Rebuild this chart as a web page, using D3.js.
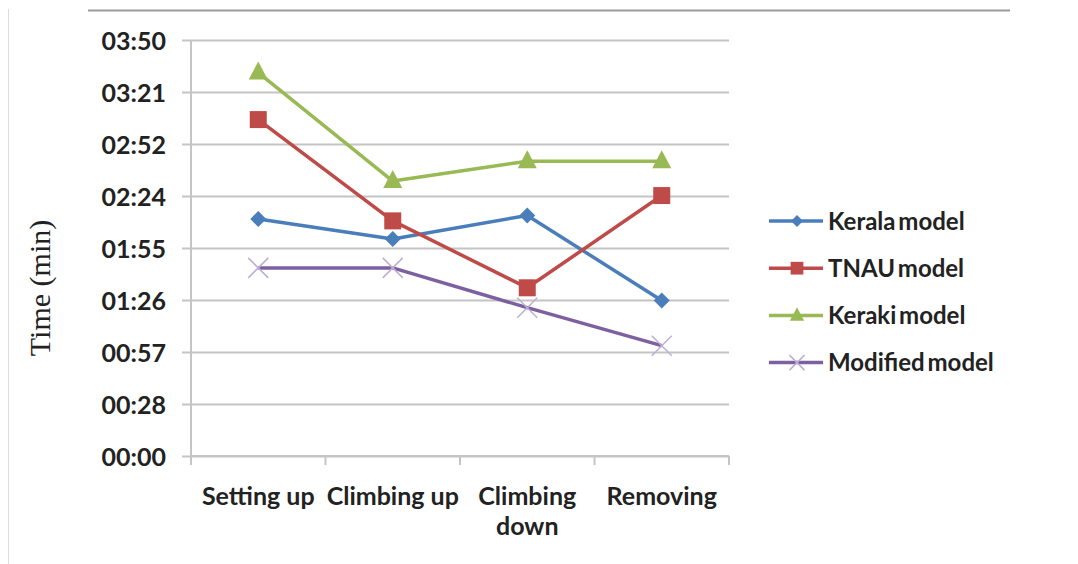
<!DOCTYPE html>
<html>
<head>
<meta charset="utf-8">
<script src="https://cdn.jsdelivr.net/npm/d3@7"></script>
<style>
  body { margin: 0; background: #fff; }
  svg text { font-family: Lato, "Open Sans", sans-serif; font-weight: bold; fill: #222; }
</style>
</head>
<body>
<div id="chart"></div>
<script>
// data (times in seconds)
var categories = ["Setting up", "Climbing up", "Climbing down", "Removing"];
var keralaModel   = [131, 120, 133, 86];
var tnauModel     = [186, 130, 93, 144];
var keraki        = [212, 152, 163, 163];
var modifiedModel = [104, 104, 82, 61];
var yTickLabels = ["00:00", "00:28", "00:57", "01:26", "01:55", "02:24", "02:52", "03:21", "03:50"];
var yMax = 230;

var series = [
  {name: "Kerala model",   values: keralaModel,   color: "#4a7ebb", marker: "diamond"},
  {name: "TNAU model",     values: tnauModel,     color: "#be4b48", marker: "square"},
  {name: "Keraki model",   values: keraki,        color: "#98b954", marker: "triangle"},
  {name: "Modified model", values: modifiedModel, color: "#7d60a0", marker: "cross"}
];

var W = 1078, H = 564;
var plot = {left: 191, right: 729, top: 40, bottom: 456};

var svg = d3.select("#chart").append("svg").attr("width", W).attr("height", H);

// outer frame lines
svg.append("line").attr("x1", 8.5).attr("x2", 8.5).attr("y1", 9).attr("y2", H)
  .style("stroke", "#dcdcdc").style("stroke-width", 1);
svg.append("line").attr("x1", 88).attr("x2", 1010).attr("y1", 10.5).attr("y2", 10.5)
  .style("stroke", "#9a9a9a").style("stroke-width", 2);

var x = d3.scaleBand().domain(categories).range([plot.left, plot.right]);
var y = d3.scaleLinear().domain([0, yMax]).range([plot.bottom, plot.top]);
var yTicks = yTickLabels.map(function(d, i) { return i * yMax / (yTickLabels.length - 1); });

// gridlines + y axis
var yAxis = d3.axisLeft(y).tickValues(yTicks)
  .tickFormat(function(d, i) { return yTickLabels[i]; })
  .tickSize(-(plot.right - plot.left)).tickSizeOuter(0).tickPadding(25);
var gy = svg.append("g").attr("transform", "translate(" + plot.left + ",0)").call(yAxis);
gy.select(".domain").remove();
gy.selectAll(".tick line").attr("x1", -9).style("stroke", "#c4c4c4").style("stroke-width", 2);
gy.selectAll(".tick text").style("font-size", "25px").attr("dy", "0.36em");
gy.append("line").attr("x1", 0).attr("x2", 0).attr("y1", plot.top).attr("y2", plot.bottom)
  .style("stroke", "#c4c4c4").style("stroke-width", 2);

// x axis
var xAxis = d3.axisBottom(x).tickSize(0).tickPadding(49);
var gx = svg.append("g").attr("transform", "translate(0," + plot.bottom + ")").call(xAxis);
gx.select(".domain").remove();
gx.selectAll(".tick text").style("font-size", "25px").attr("dy", "0").call(wrap, x.bandwidth() + 6);
gx.append("line").attr("x1", plot.left).attr("x2", plot.right).attr("y1", 0).attr("y2", 0)
  .style("stroke", "#c4c4c4").style("stroke-width", 2);
var bounds = categories.map(function(c) { return x(c); }).concat([plot.right]);
gx.selectAll(".bound").data(bounds).enter().append("line")
  .attr("x1", function(d) { return d; }).attr("x2", function(d) { return d; })
  .attr("y1", 0).attr("y2", 9).style("stroke", "#c4c4c4").style("stroke-width", 2);

function wrap(text, width) {
  text.each(function() {
    var t = d3.select(this), words = t.text().split(/\s+/), line = [], lineNo = 0;
    var yy = t.attr("y");
    var tspan = t.text(null).append("tspan").attr("x", 0).attr("y", yy);
    words.forEach(function(w) {
      line.push(w);
      tspan.text(line.join(" "));
      if (tspan.node().getComputedTextLength() > width && line.length > 1) {
        line.pop(); tspan.text(line.join(" "));
        line = [w]; lineNo++;
        tspan = t.append("tspan").attr("x", 0).attr("y", +yy + lineNo * 30).text(w);
      }
    });
  });
}

// y title
svg.append("text").attr("transform", "translate(50,288) rotate(-90)")
  .attr("text-anchor", "middle")
  .style("font-family", "'Liberation Serif', 'DejaVu Serif', serif").style("font-weight", "normal")
  .style("font-size", "30px").text("Time (min)");

// markers
function markerPath(type, s) {
  var p = d3.path();
  if (type == "diamond") { p.moveTo(0, -8 * s); p.lineTo(8 * s, 0); p.lineTo(0, 8 * s); p.lineTo(-8 * s, 0); p.closePath(); }
  if (type == "square") { p.rect(-8.5 * s, -8.5 * s, 17 * s, 17 * s); }
  if (type == "triangle") { p.moveTo(0, -11 * s); p.lineTo(9.5 * s, 7 * s); p.lineTo(-9.5 * s, 7 * s); p.closePath(); }
  if (type == "cross") { p.moveTo(-10 * s, -10 * s); p.lineTo(10 * s, 10 * s); p.moveTo(10 * s, -10 * s); p.lineTo(-10 * s, 10 * s); }
  return p.toString();
}
function drawMarker(g, s, d, px, py, scale) {
  var m = g.append("path").attr("d", markerPath(s.marker, scale))
    .attr("transform", "translate(" + px + "," + py + ")");
  if (s.marker == "cross") m.style("fill", "none").style("stroke", "#bcaed2").style("stroke-width", 1.5);
  else m.style("fill", s.color);
}

var line = d3.line()
  .x(function(d, i) { return x(categories[i]) + x.bandwidth() / 2; })
  .y(function(d) { return y(d); });

series.forEach(function(s) {
  var g = svg.append("g");
  g.append("path").datum(s.values).attr("d", line)
    .style("fill", "none").style("stroke", s.color).style("stroke-width", 3.5).style("stroke-linejoin", "round");
  s.values.forEach(function(v, i) {
    drawMarker(g, s, v, x(categories[i]) + x.bandwidth() / 2, y(v), 1);
  });
});

// legend
var legend = svg.append("g").attr("transform", "translate(769,221)");
series.forEach(function(s, i) {
  var g = legend.append("g").attr("transform", "translate(0," + (i * 47.2) + ")");
  g.append("line").attr("x1", 0).attr("x2", 54).attr("y1", 0).attr("y2", 0)
    .style("stroke", s.color).style("stroke-width", 3.5);
  drawMarker(g, s, 0, 28, 0, 0.75);
  g.append("text").attr("x", 59).attr("y", 0).attr("dy", "0.36em")
    .style("font-size", "24px").style("word-spacing", "-3px").text(s.name);
});
</script>
</body>
</html>
